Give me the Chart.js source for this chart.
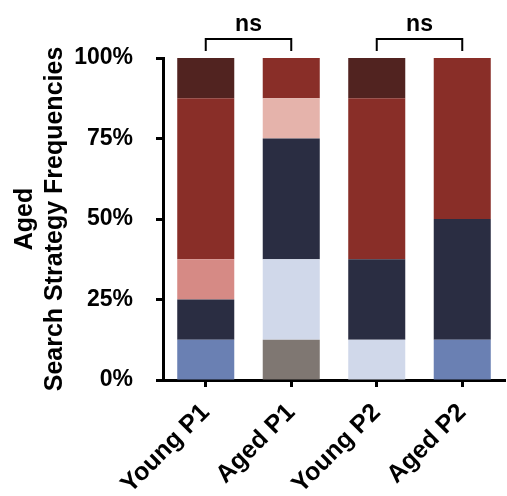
<!DOCTYPE html>
<html><head><meta charset="utf-8">
<script src="https://cdn.jsdelivr.net/npm/chart.js@4"></script>
<style>html,body{margin:0;padding:0;background:#fff}canvas{display:block}</style>
</head><body><canvas id="c" width="507" height="496"></canvas>
<script>
const categories = ['Young P1', 'Aged P1', 'Young P2', 'Aged P2'];
const yTickValues = [0, 25, 50, 75, 100];
const yTitle = ['Aged', 'Search Strategy Frequencies'];

// Strategy frequencies (%) per group, stacked bottom to top
const stratGray      = [0, 12.5, 0, 0];
const stratSteel     = [12.5, 0, 0, 12.5];
const stratLavender  = [0, 25, 12.5, 0];
const stratNavy      = [12.5, 37.5, 25, 37.5];
const stratSalmon    = [12.5, 0, 0, 0];
const stratLightPink = [0, 12.5, 0, 0];
const stratRed       = [50, 12.5, 50, 50];
const stratDarkBrown = [12.5, 0, 12.5, 0];

const comparisons = [[0, 1], [2, 3]];
const comparisonLabels = ['ns', 'ns'];

const FONT = '"Liberation Sans", Arial, Helvetica, sans-serif';
Chart.defaults.font.family = FONT;
Chart.defaults.color = '#000';

const seriesDefs = [
  ['S1', stratGray, '#7f7772'],
  ['S2', stratSteel, '#6a80b3'],
  ['S3', stratLavender, '#d0d8ea'],
  ['S4', stratNavy, '#2a2d42'],
  ['S5', stratSalmon, '#d68a85'],
  ['S6', stratLightPink, '#e5b3ab'],
  ['S7', stratRed, '#892e28'],
  ['S8', stratDarkBrown, '#512320']
];

const bracketPlugin = {
  id: 'brackets',
  afterDraw(chart) {
    const {ctx, chartArea, scales: {x}} = chart;
    comparisons.forEach((pair, i) => {
      const x1 = x.getPixelForValue(pair[0]);
      const x2 = x.getPixelForValue(pair[1]);
      const yTop = chartArea.top - 19;
      const yBot = chartArea.top - 7;
      ctx.save();
      ctx.strokeStyle = '#000';
      ctx.lineWidth = 2;
      ctx.beginPath();
      ctx.moveTo(x1, yBot); ctx.lineTo(x1, yTop); ctx.lineTo(x2, yTop); ctx.lineTo(x2, yBot);
      ctx.stroke();
      ctx.fillStyle = '#000';
      ctx.font = 'bold 23px ' + FONT;
      ctx.textAlign = 'center';
      ctx.textBaseline = 'alphabetic';
      ctx.fillText(comparisonLabels[i], (x1 + x2) / 2, chartArea.top - 27);
      ctx.restore();
    });
  }
};

new Chart(document.getElementById('c'), {
  type: 'bar',
  data: {
    labels: categories,
    datasets: seriesDefs.map(([name, vals, col]) => ({
      label: name, data: vals, backgroundColor: col, borderWidth: 0,
      barPercentage: 0.667, categoryPercentage: 1
    }))
  },
  options: {
    responsive: false,
    animation: false,
    devicePixelRatio: 1,
    layout: {padding: {top: 58, right: 2, left: 0, bottom: 0}},
    plugins: {legend: {display: false}, tooltip: {enabled: false}},
    scales: {
      x: {
        stacked: true,
        border: {color: '#000', width: 3},
        grid: {display: true, offset: false, drawOnChartArea: false, drawTicks: true, tickLength: 7, tickWidth: 3, tickColor: '#000'},
        ticks: {autoSkip: false, maxRotation: 45, minRotation: 45, padding: 11, color: '#000', font: {size: 25, weight: 'bold'}},
        afterFit: s => { s.height = 116; }
      },
      y: {
        stacked: true,
        min: 0, max: 100,
        afterBuildTicks: s => { s.ticks = yTickValues.map(v => ({value: v})); },
        border: {color: '#000', width: 3},
        grid: {drawOnChartArea: false, drawTicks: true, tickLength: 7, tickWidth: 3, tickColor: '#000'},
        ticks: {padding: 23, color: '#000', font: {size: 23, weight: 'bold'}, callback: v => v + '%'},
        title: {display: true, text: yTitle, color: '#000', font: {size: 25, weight: 'bold'}, padding: {top: 10, bottom: 0}},
        afterFit: s => { s.width = 163; }
      }
    }
  },
  plugins: [bracketPlugin]
});
</script>
</body></html>
